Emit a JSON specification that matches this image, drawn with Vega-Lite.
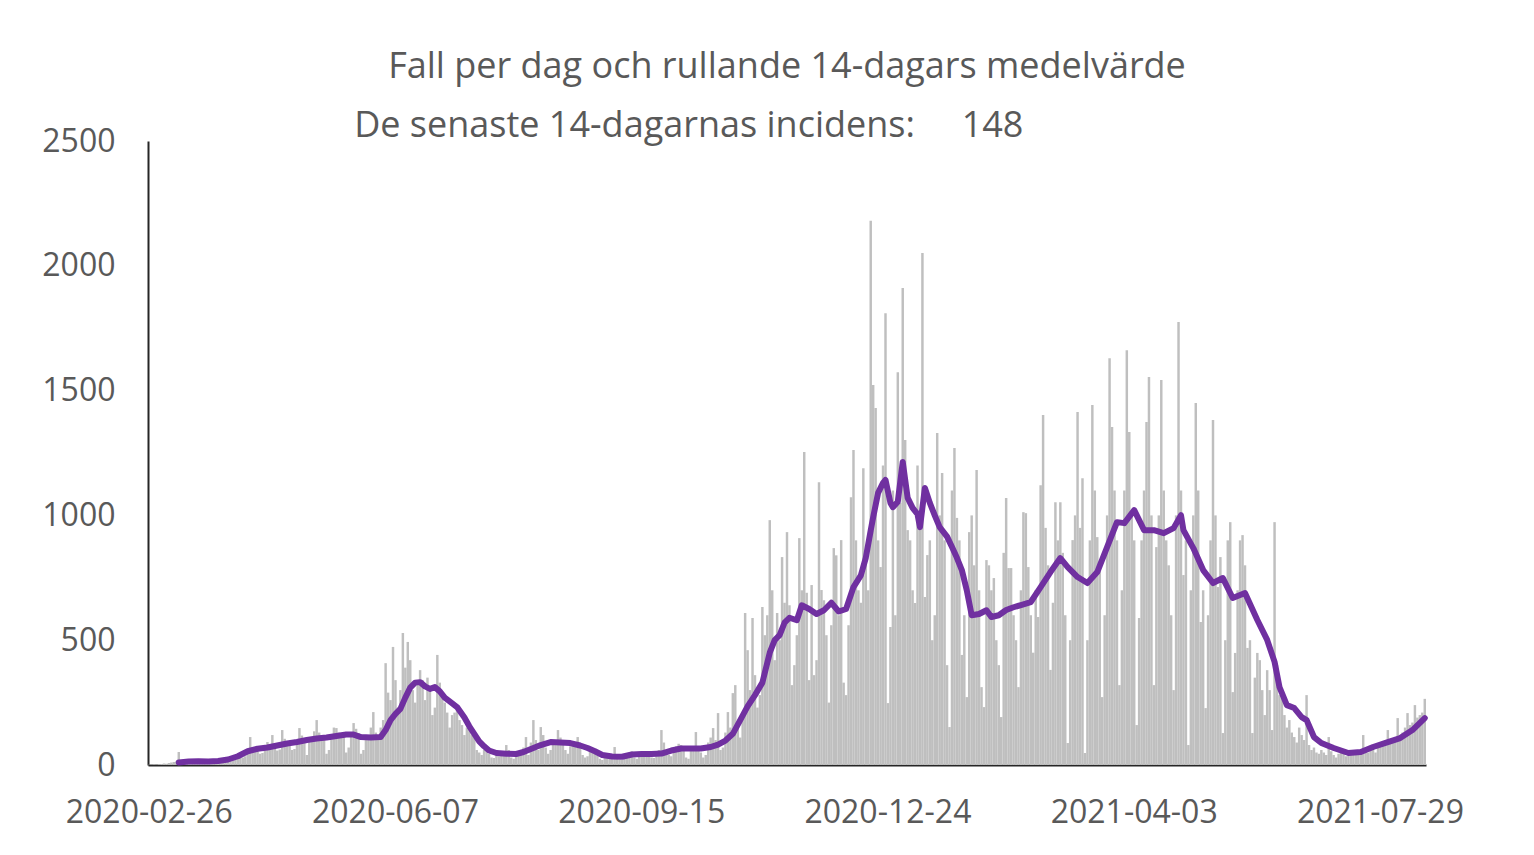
{
  "$schema": "https://vega.github.io/schema/vega-lite/v6.json",
  "width": 1278,
  "height": 624,
  "autosize": {"type": "none"},
  "padding": {"left": 148, "top": 141, "right": 108, "bottom": 90},
  "background": "white",
  "title": {
    "text": "Fall per dag och rullande 14-dagars medelvärde",
    "subtitle": "De senaste 14-dagarnas incidens:\u00a0\u00a0\u00a0\u00a0\u00a0148\u00a0\u00a0\u00a0\u00a0\u00a0\u00a0\u00a0\u00a0\u00a0\u00a0\u00a0\u00a0\u00a0\u00a0\u00a0\u00a0\u00a0\u00a0\u00a0\u00a0\u00a0\u200b",
    "anchor": "middle",
    "frame": "group",
    "font": "Open Sans",
    "fontSize": 36,
    "fontWeight": "normal",
    "color": "#595959",
    "subtitleFont": "Open Sans",
    "subtitleFontSize": 36,
    "subtitleColor": "#595959",
    "subtitlePadding": 23,
    "offset": -20
  },
  "datasets": {
    "fall": [
{"c":0,"v":1},{"c":1,"v":1},{"c":2,"v":2},{"c":3,"v":1},{"c":4,"v":3},{"c":5,"v":4},{"c":6,"v":6},{"c":7,"v":5},{"c":8,"v":8},{"c":9,"v":10},
{"c":10,"v":12},{"c":11,"v":14},{"c":12,"v":52},{"c":13,"v":9},{"c":14,"v":12},{"c":15,"v":14},{"c":16,"v":18},{"c":17,"v":10},{"c":18,"v":8},{"c":19,"v":15},
{"c":20,"v":17},{"c":21,"v":14},{"c":22,"v":12},{"c":23,"v":9},{"c":24,"v":11},{"c":25,"v":16},{"c":26,"v":18},{"c":27,"v":20},{"c":28,"v":22},{"c":29,"v":20},
{"c":30,"v":15},{"c":31,"v":14},{"c":32,"v":28},{"c":33,"v":34},{"c":34,"v":30},{"c":35,"v":32},{"c":36,"v":38},{"c":37,"v":44},{"c":38,"v":30},{"c":39,"v":35},
{"c":40,"v":62},{"c":41,"v":112},{"c":42,"v":70},{"c":43,"v":66},{"c":44,"v":72},{"c":45,"v":45},{"c":46,"v":48},{"c":47,"v":78},{"c":48,"v":92},{"c":49,"v":84},
{"c":50,"v":120},{"c":51,"v":76},{"c":52,"v":58},{"c":53,"v":62},{"c":54,"v":140},{"c":55,"v":105},{"c":56,"v":96},{"c":57,"v":92},{"c":58,"v":60},{"c":59,"v":64},
{"c":60,"v":98},{"c":61,"v":148},{"c":62,"v":118},{"c":63,"v":104},{"c":64,"v":40},{"c":65,"v":96},{"c":66,"v":110},{"c":67,"v":135},{"c":68,"v":180},{"c":69,"v":130},
{"c":70,"v":118},{"c":71,"v":112},{"c":72,"v":45},{"c":73,"v":60},{"c":74,"v":120},{"c":75,"v":150},{"c":76,"v":148},{"c":77,"v":130},{"c":78,"v":125},{"c":79,"v":118},
{"c":80,"v":50},{"c":81,"v":70},{"c":82,"v":125},{"c":83,"v":168},{"c":84,"v":145},{"c":85,"v":128},{"c":86,"v":45},{"c":87,"v":60},{"c":88,"v":100},{"c":89,"v":120},
{"c":90,"v":150},{"c":91,"v":212},{"c":92,"v":130},{"c":93,"v":110},{"c":94,"v":150},{"c":95,"v":180},{"c":96,"v":408},{"c":97,"v":290},{"c":98,"v":260},{"c":99,"v":473},
{"c":100,"v":340},{"c":101,"v":230},{"c":102,"v":300},{"c":103,"v":529},{"c":104,"v":390},{"c":105,"v":493},{"c":106,"v":420},{"c":107,"v":300},{"c":108,"v":250},{"c":109,"v":330},
{"c":110,"v":380},{"c":111,"v":340},{"c":112,"v":260},{"c":113,"v":350},{"c":114,"v":310},{"c":115,"v":200},{"c":116,"v":230},{"c":117,"v":441},{"c":118,"v":330},{"c":119,"v":280},
{"c":120,"v":250},{"c":121,"v":210},{"c":122,"v":150},{"c":123,"v":200},{"c":124,"v":210},{"c":125,"v":240},{"c":126,"v":180},{"c":127,"v":160},{"c":128,"v":120},{"c":129,"v":150},
{"c":130,"v":140},{"c":131,"v":120},{"c":132,"v":110},{"c":133,"v":60},{"c":134,"v":50},{"c":135,"v":40},{"c":136,"v":60},{"c":137,"v":70},{"c":138,"v":45},{"c":139,"v":30},
{"c":140,"v":28},{"c":141,"v":40},{"c":142,"v":35},{"c":143,"v":45},{"c":144,"v":50},{"c":145,"v":80},{"c":146,"v":60},{"c":147,"v":30},{"c":148,"v":25},{"c":149,"v":38},
{"c":150,"v":50},{"c":151,"v":55},{"c":152,"v":70},{"c":153,"v":112},{"c":154,"v":40},{"c":155,"v":90},{"c":156,"v":180},{"c":157,"v":100},{"c":158,"v":60},{"c":159,"v":152},
{"c":160,"v":120},{"c":161,"v":70},{"c":162,"v":45},{"c":163,"v":60},{"c":164,"v":100},{"c":165,"v":95},{"c":166,"v":140},{"c":167,"v":110},{"c":168,"v":80},{"c":169,"v":60},
{"c":170,"v":45},{"c":171,"v":75},{"c":172,"v":90},{"c":173,"v":85},{"c":174,"v":112},{"c":175,"v":70},{"c":176,"v":40},{"c":177,"v":30},{"c":178,"v":35},{"c":179,"v":60},
{"c":180,"v":50},{"c":181,"v":55},{"c":182,"v":45},{"c":183,"v":25},{"c":184,"v":20},{"c":185,"v":30},{"c":186,"v":40},{"c":187,"v":38},{"c":188,"v":28},{"c":189,"v":72},
{"c":190,"v":35},{"c":191,"v":22},{"c":192,"v":20},{"c":193,"v":40},{"c":194,"v":45},{"c":195,"v":50},{"c":196,"v":55},{"c":197,"v":30},{"c":198,"v":25},{"c":199,"v":45},
{"c":200,"v":50},{"c":201,"v":55},{"c":202,"v":48},{"c":203,"v":40},{"c":204,"v":30},{"c":205,"v":28},{"c":206,"v":45},{"c":207,"v":60},{"c":208,"v":140},{"c":209,"v":90},
{"c":210,"v":55},{"c":211,"v":40},{"c":212,"v":35},{"c":213,"v":60},{"c":214,"v":75},{"c":215,"v":85},{"c":216,"v":80},{"c":217,"v":70},{"c":218,"v":30},{"c":219,"v":25},
{"c":220,"v":60},{"c":221,"v":70},{"c":222,"v":132},{"c":223,"v":75},{"c":224,"v":50},{"c":225,"v":30},{"c":226,"v":40},{"c":227,"v":90},{"c":228,"v":110},{"c":229,"v":148},
{"c":230,"v":100},{"c":231,"v":208},{"c":232,"v":60},{"c":233,"v":70},{"c":234,"v":130},{"c":235,"v":212},{"c":236,"v":150},{"c":237,"v":288},{"c":238,"v":320},{"c":239,"v":160},
{"c":240,"v":110},{"c":241,"v":200},{"c":242,"v":609},{"c":243,"v":460},{"c":244,"v":300},{"c":245,"v":589},{"c":246,"v":360},{"c":247,"v":230},{"c":248,"v":280},{"c":249,"v":633},
{"c":250,"v":520},{"c":251,"v":600},{"c":252,"v":981},{"c":253,"v":700},{"c":254,"v":420},{"c":255,"v":609},{"c":256,"v":500},{"c":257,"v":833},{"c":258,"v":650},{"c":259,"v":933},
{"c":260,"v":640},{"c":261,"v":320},{"c":262,"v":400},{"c":263,"v":520},{"c":264,"v":909},{"c":265,"v":700},{"c":266,"v":1254},{"c":267,"v":690},{"c":268,"v":340},{"c":269,"v":721},
{"c":270,"v":360},{"c":271,"v":420},{"c":272,"v":1133},{"c":273,"v":701},{"c":274,"v":660},{"c":275,"v":520},{"c":276,"v":250},{"c":277,"v":560},{"c":278,"v":869},{"c":279,"v":840},
{"c":280,"v":600},{"c":281,"v":901},{"c":282,"v":330},{"c":283,"v":280},{"c":284,"v":560},{"c":285,"v":1073},{"c":286,"v":1262},{"c":287,"v":900},{"c":288,"v":700},{"c":289,"v":650},
{"c":290,"v":1189},{"c":291,"v":830},{"c":292,"v":700},{"c":293,"v":2180},{"c":294,"v":1522},{"c":295,"v":1430},{"c":296,"v":900},{"c":297,"v":793},{"c":298,"v":1200},{"c":299,"v":1810},
{"c":300,"v":248},{"c":301,"v":553},{"c":302,"v":1100},{"c":303,"v":600},{"c":304,"v":1574},{"c":305,"v":1050},{"c":306,"v":1911},{"c":307,"v":1302},{"c":308,"v":941},{"c":309,"v":900},
{"c":310,"v":700},{"c":311,"v":649},{"c":312,"v":1200},{"c":313,"v":1000},{"c":314,"v":2051},{"c":315,"v":673},{"c":316,"v":841},{"c":317,"v":900},{"c":318,"v":500},{"c":319,"v":600},
{"c":320,"v":1330},{"c":321,"v":1000},{"c":322,"v":1170},{"c":323,"v":900},{"c":324,"v":400},{"c":325,"v":152},{"c":326,"v":1100},{"c":327,"v":1270},{"c":328,"v":990},{"c":329,"v":900},
{"c":330,"v":441},{"c":331,"v":600},{"c":332,"v":272},{"c":333,"v":933},{"c":334,"v":1000},{"c":335,"v":800},{"c":336,"v":1182},{"c":337,"v":700},{"c":338,"v":312},{"c":339,"v":232},
{"c":340,"v":821},{"c":341,"v":800},{"c":342,"v":700},{"c":343,"v":749},{"c":344,"v":500},{"c":345,"v":400},{"c":346,"v":192},{"c":347,"v":850},{"c":348,"v":1070},{"c":349,"v":789},
{"c":350,"v":789},{"c":351,"v":600},{"c":352,"v":500},{"c":353,"v":312},{"c":354,"v":700},{"c":355,"v":1013},{"c":356,"v":1009},{"c":357,"v":793},{"c":358,"v":600},{"c":359,"v":450},
{"c":360,"v":700},{"c":361,"v":593},{"c":362,"v":1121},{"c":363,"v":1402},{"c":364,"v":950},{"c":365,"v":800},{"c":366,"v":381},{"c":367,"v":650},{"c":368,"v":1053},{"c":369,"v":900},
{"c":370,"v":1053},{"c":371,"v":850},{"c":372,"v":600},{"c":373,"v":88},{"c":374,"v":500},{"c":375,"v":901},{"c":376,"v":1000},{"c":377,"v":1414},{"c":378,"v":950},{"c":379,"v":1149},
{"c":380,"v":48},{"c":381,"v":500},{"c":382,"v":900},{"c":383,"v":1442},{"c":384,"v":1100},{"c":385,"v":913},{"c":386,"v":800},{"c":387,"v":272},{"c":388,"v":600},{"c":389,"v":1000},
{"c":390,"v":1630},{"c":391,"v":1354},{"c":392,"v":1100},{"c":393,"v":900},{"c":394,"v":320},{"c":395,"v":700},{"c":396,"v":1100},{"c":397,"v":1662},{"c":398,"v":1334},{"c":399,"v":1000},
{"c":400,"v":900},{"c":401,"v":160},{"c":402,"v":589},{"c":403,"v":900},{"c":404,"v":1100},{"c":405,"v":1374},{"c":406,"v":1554},{"c":407,"v":1000},{"c":408,"v":320},{"c":409,"v":873},
{"c":410,"v":1000},{"c":411,"v":1542},{"c":412,"v":1100},{"c":413,"v":900},{"c":414,"v":800},{"c":415,"v":600},{"c":416,"v":300},{"c":417,"v":1000},{"c":418,"v":1775},{"c":419,"v":1100},
{"c":420,"v":761},{"c":421,"v":900},{"c":422,"v":80},{"c":423,"v":700},{"c":424,"v":1000},{"c":425,"v":1450},{"c":426,"v":1100},{"c":427,"v":573},{"c":428,"v":700},{"c":429,"v":228},
{"c":430,"v":600},{"c":431,"v":900},{"c":432,"v":1382},{"c":433,"v":1000},{"c":434,"v":713},{"c":435,"v":833},{"c":436,"v":128},{"c":437,"v":500},{"c":438,"v":900},{"c":439,"v":973},
{"c":440,"v":292},{"c":441,"v":449},{"c":442,"v":700},{"c":443,"v":900},{"c":444,"v":921},{"c":445,"v":800},{"c":446,"v":469},{"c":447,"v":500},{"c":448,"v":128},{"c":449,"v":350},
{"c":450,"v":449},{"c":451,"v":420},{"c":452,"v":300},{"c":453,"v":200},{"c":454,"v":380},{"c":455,"v":300},{"c":456,"v":140},{"c":457,"v":973},{"c":458,"v":400},{"c":459,"v":280},
{"c":460,"v":270},{"c":461,"v":200},{"c":462,"v":150},{"c":463,"v":180},{"c":464,"v":130},{"c":465,"v":112},{"c":466,"v":90},{"c":467,"v":150},{"c":468,"v":120},{"c":469,"v":100},
{"c":470,"v":280},{"c":471,"v":80},{"c":472,"v":60},{"c":473,"v":70},{"c":474,"v":50},{"c":475,"v":45},{"c":476,"v":60},{"c":477,"v":50},{"c":478,"v":40},{"c":479,"v":112},
{"c":480,"v":55},{"c":481,"v":40},{"c":482,"v":30},{"c":483,"v":45},{"c":484,"v":60},{"c":485,"v":50},{"c":486,"v":35},{"c":487,"v":40},{"c":488,"v":60},{"c":489,"v":55},
{"c":490,"v":50},{"c":491,"v":45},{"c":492,"v":60},{"c":493,"v":120},{"c":494,"v":55},{"c":495,"v":50},{"c":496,"v":70},{"c":497,"v":65},{"c":498,"v":50},{"c":499,"v":80},
{"c":500,"v":90},{"c":501,"v":85},{"c":502,"v":80},{"c":503,"v":140},{"c":504,"v":100},{"c":505,"v":95},{"c":506,"v":110},{"c":507,"v":188},{"c":508,"v":120},{"c":509,"v":130},
{"c":510,"v":150},{"c":511,"v":208},{"c":512,"v":160},{"c":513,"v":170},{"c":514,"v":240},{"c":515,"v":190},{"c":516,"v":200},{"c":517,"v":210},{"c":518,"v":265}
    ],
    "medel": [
{"c":12,"m":10},{"c":16,"m":14},{"c":20,"m":15},{"c":24,"m":14},{"c":28,"m":16},{"c":32,"m":22},{"c":36,"m":35},{"c":40,"m":55},{"c":44,"m":65},{"c":48,"m":70},
{"c":52,"m":78},{"c":56,"m":86},{"c":60,"m":92},{"c":64,"m":100},{"c":68,"m":106},{"c":72,"m":110},{"c":76,"m":116},{"c":80,"m":122},{"c":83,"m":122},{"c":86,"m":112},
{"c":90,"m":110},{"c":94,"m":112},{"c":96,"m":140},{"c":98,"m":180},{"c":100,"m":205},{"c":102,"m":225},{"c":104,"m":270},{"c":106,"m":310},{"c":108,"m":330},{"c":110,"m":332},
{"c":112,"m":315},{"c":114,"m":305},{"c":116,"m":312},{"c":118,"m":295},{"c":120,"m":270},{"c":122,"m":255},{"c":125,"m":232},{"c":128,"m":190},{"c":130,"m":155},{"c":132,"m":125},
{"c":134,"m":95},{"c":136,"m":75},{"c":138,"m":58},{"c":141,"m":48},{"c":145,"m":45},{"c":149,"m":44},{"c":152,"m":52},{"c":155,"m":64},{"c":159,"m":80},{"c":163,"m":92},
{"c":167,"m":90},{"c":171,"m":88},{"c":175,"m":78},{"c":178,"m":68},{"c":181,"m":55},{"c":184,"m":40},{"c":188,"m":34},{"c":192,"m":33},{"c":196,"m":42},{"c":200,"m":44},
{"c":204,"m":44},{"c":208,"m":46},{"c":212,"m":58},{"c":216,"m":66},{"c":220,"m":66},{"c":224,"m":66},{"c":228,"m":72},{"c":231,"m":82},{"c":234,"m":98},{"c":237,"m":125},
{"c":240,"m":180},{"c":243,"m":235},{"c":246,"m":280},{"c":249,"m":330},{"c":252,"m":450},{"c":254,"m":500},{"c":256,"m":520},{"c":258,"m":570},{"c":260,"m":590},{"c":263,"m":580},
{"c":265,"m":640},{"c":268,"m":625},{"c":271,"m":605},{"c":274,"m":620},{"c":277,"m":650},{"c":280,"m":615},{"c":283,"m":625},{"c":286,"m":713},{"c":289,"m":760},{"c":291,"m":830},
{"c":293,"m":940},{"c":294,"m":993},{"c":296,"m":1090},{"c":298,"m":1130},{"c":299,"m":1142},{"c":301,"m":1050},{"c":302,"m":1033},{"c":304,"m":1055},{"c":306,"m":1214},{"c":308,"m":1070},
{"c":310,"m":1030},{"c":312,"m":1005},{"c":313,"m":953},{"c":315,"m":1110},{"c":317,"m":1050},{"c":319,"m":1000},{"c":321,"m":953},{"c":324,"m":915},{"c":326,"m":873},{"c":328,"m":830},
{"c":330,"m":781},{"c":332,"m":700},{"c":334,"m":600},{"c":337,"m":605},{"c":340,"m":620},{"c":342,"m":593},{"c":345,"m":600},{"c":348,"m":621},{"c":351,"m":632},{"c":354,"m":641},
{"c":358,"m":653},{"c":362,"m":713},{"c":366,"m":773},{"c":370,"m":829},{"c":373,"m":793},{"c":377,"m":753},{"c":381,"m":729},{"c":385,"m":773},{"c":389,"m":873},{"c":393,"m":973},
{"c":396,"m":969},{"c":400,"m":1021},{"c":404,"m":941},{"c":408,"m":941},{"c":412,"m":929},{"c":416,"m":949},{"c":419,"m":1001},{"c":420,"m":941},{"c":424,"m":869},{"c":428,"m":781},
{"c":432,"m":729},{"c":436,"m":749},{"c":440,"m":669},{"c":445,"m":689},{"c":450,"m":581},{"c":454,"m":501},{"c":457,"m":413},{"c":459,"m":312},{"c":462,"m":240},{"c":465,"m":228},
{"c":468,"m":192},{"c":470,"m":180},{"c":473,"m":112},{"c":476,"m":88},{"c":481,"m":68},{"c":487,"m":48},{"c":492,"m":52},{"c":497,"m":72},{"c":503,"m":92},{"c":508,"m":108},
{"c":513,"m":140},{"c":518,"m":188}
    ]
  },
  "encoding": {
    "x": {
      "field": "c",
      "type": "ordinal",
      "scale": {"type": "band", "paddingInner": 0, "paddingOuter": 0},
      "axis": {
        "values": [0, 100, 200, 300, 400, 500],
        "labelExpr": "datum.value == 0 ? '2020-02-26' : datum.value == 100 ? '2020-06-07' : datum.value == 200 ? '2020-09-15' : datum.value == 300 ? '2020-12-24' : datum.value == 400 ? '2021-04-03' : '2021-07-29'",
        "labelAngle": 0,
        "ticks": false,
        "title": null,
        "labelFont": "Open Sans",
        "labelFontSize": 32,
        "labelColor": "#595959",
        "labelPadding": 32,
        "labelOverlap": false,
        "domainColor": "#262626",
        "domainWidth": 2
      }
    }
  },
  "layer": [
    {
      "data": {"name": "fall"},
      "mark": {"type": "bar", "color": "#BFBFBF"},
      "encoding": {
        "y": {
          "field": "v",
          "type": "quantitative",
          "scale": {"domain": [0, 2500], "nice": false},
          "axis": {
            "values": [0, 500, 1000, 1500, 2000, 2500],
            "format": "d",
            "grid": false,
            "ticks": false,
            "title": null,
            "labelFont": "Open Sans",
            "labelFontSize": 32,
            "labelColor": "#595959",
            "labelPadding": 33,
            "domainColor": "#262626",
            "domainWidth": 2
          }
        }
      }
    },
    {
      "data": {"name": "medel"},
      "mark": {"type": "line", "color": "#7030A0", "strokeWidth": 6, "strokeJoin": "round", "strokeCap": "round"},
      "encoding": {
        "y": {"field": "m", "type": "quantitative", "scale": {"domain": [0, 2500], "nice": false}}
      }
    }
  ],
  "config": {
    "view": {"stroke": null}
  }
}
